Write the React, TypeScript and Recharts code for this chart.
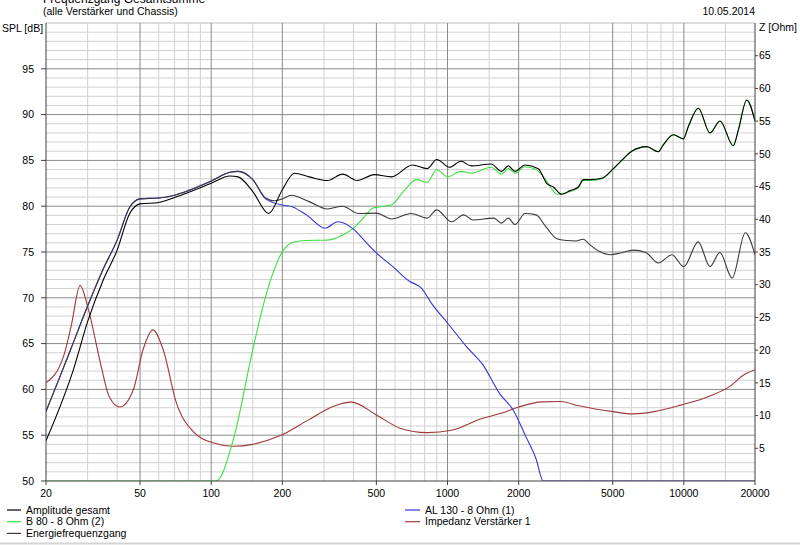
import React from 'react';
import { LineChart, Line, XAxis, YAxis, CartesianGrid } from 'recharts';

const FONT = '"Liberation Sans", Arial, Helvetica, sans-serif';

// ---- axis ticks ----
const xTicks = [20, 50, 100, 200, 500, 1000, 2000, 5000, 10000, 20000];
const freqMajor = [50, 100, 200, 500, 1000, 2000, 5000, 10000];
const freqMinor = [30, 40, 60, 70, 80, 90, 150, 300, 400, 600, 700, 800, 900, 1500, 3000, 4000, 6000, 7000, 8000, 9000, 15000];
const splTicks = [50, 55, 60, 65, 70, 75, 80, 85, 90, 95];
const zTicks = [5, 10, 15, 20, 25, 30, 35, 40, 45, 50, 55, 60, 65];
const splMajorGrid = [55, 60, 65, 70, 75, 80, 85, 90, 95];
const splMinorGrid = Array.from({ length: 50 }, (_, i) => 51 + i).filter((v) => v % 5 !== 0 || v === 100);

// ---- series: [frequency Hz, value] ----
const gesamt: [number, number][] = [
  [20, 54.4], [23, 58.2], [26, 62.0], [30, 67.4], [35, 72.0], [40, 75.2], [45, 79.1], [50, 80.25],
  [60, 80.4], [70, 80.95], [80, 81.5], [100, 82.5], [120, 83.3], [130, 83.2], [150, 81.6], [175, 79.2],
  [200, 81.8], [225, 83.6], [260, 83.2], [310, 82.8], [360, 83.5], [415, 82.8], [490, 83.45], [580, 83.2],
  [710, 84.5], [820, 84.1], [900, 85.1], [1020, 84.25], [1140, 84.9], [1260, 84.4], [1530, 84.6], [1690, 83.8],
  [1808, 84.4], [1930, 83.8], [2128, 84.5], [2422, 84.1], [2628, 82.5], [2804, 82.1], [3042, 81.3], [3298, 81.7],
  [3576, 82.1], [3754, 82.9], [4008, 82.9], [4490, 83.05], [5028, 84.1], [5458, 85.0], [6018, 86.0], [6964, 86.5],
  [7798, 85.95], [8186, 86.7], [9022, 87.8], [9948, 87.35], [10444, 88.7], [11512, 90.7], [12900, 88.0], [14220, 89.3],
  [16190, 86.6], [17000, 88.3], [18450, 91.6], [20000, 89.3],
];

const energie: [number, number][] = [
  [20, 57.6], [23, 61.5], [26, 65.0], [30, 69.1], [35, 73.2], [40, 76.3], [45, 79.8], [50, 80.8],
  [60, 80.9], [70, 81.2], [80, 81.7], [100, 82.75], [120, 83.7], [130, 83.8], [150, 82.9], [170, 80.9],
  [185, 80.6], [200, 80.8], [218, 81.2], [260, 80.5], [310, 79.7], [360, 80.0], [420, 79.2], [500, 79.24],
  [580, 78.6], [700, 79.2], [820, 78.7], [900, 79.6], [1040, 78.3], [1170, 79.05], [1280, 78.5], [1570, 78.7],
  [1690, 78.15], [1808, 78.7], [1930, 78.0], [2128, 79.2], [2370, 79.05], [2600, 77.8], [2900, 76.45], [3200, 76.25],
  [3500, 76.2], [3750, 76.4], [4000, 75.8], [4400, 75.05], [4900, 74.7], [5400, 74.9], [6100, 75.2], [6900, 74.95],
  [7800, 73.8], [8900, 74.7], [10000, 73.4], [11500, 76.1], [12900, 73.4], [14200, 74.95], [16000, 72.15], [18200, 77.1],
  [20000, 74.7],
];

const al130: [number, number][] = [
  [20, 57.6], [23, 61.5], [26, 65.0], [30, 69.1], [35, 73.2], [40, 76.3], [45, 79.8], [50, 80.8],
  [60, 80.9], [70, 81.2], [80, 81.7], [100, 82.75], [120, 83.7], [130, 83.8], [150, 82.9], [170, 80.8],
  [202, 80.1], [220, 79.95], [253, 79.05], [303, 77.6], [344, 78.3], [400, 77.5], [454, 76.0], [500, 74.9],
  [587, 73.4], [690, 71.8], [772, 71.1], [863, 69.25], [1000, 67.25], [1200, 64.7], [1410, 62.7], [1670, 59.45],
  [1890, 57.8], [2140, 54.9], [2370, 52.4], [2540, 50.0], [20000, 50.0],
];

const b80: [number, number][] = [
  [20, 50], [105, 50], [124, 54.5], [150, 64.35], [170, 70.15], [202, 75.2], [224, 76.1], [253, 76.25],
  [308, 76.3], [350, 76.7], [400, 77.6], [440, 78.7], [484, 79.8], [580, 80.15], [650, 81.6], [740, 82.9],
  [820, 82.6], [900, 84.0], [1000, 83.2], [1140, 83.8], [1260, 83.6], [1530, 84.25], [1690, 83.5], [1808, 84.1],
  [1930, 83.6], [2120, 84.3], [2370, 84.0], [2600, 82.9], [2910, 81.3], [3298, 81.6], [3576, 82.0], [3754, 82.8],
  [4008, 82.8], [4490, 83.0], [5028, 84.05], [5458, 85.0], [6018, 86.0], [6964, 86.5], [7798, 85.95], [8186, 86.7],
  [9022, 87.8], [9948, 87.35], [10444, 88.7], [11512, 90.7], [12900, 88.0], [14220, 89.3], [16190, 86.6], [17000, 88.3],
  [18450, 91.6], [20000, 89.3],
];

const impedanz: [number, number][] = [
  [20, 15.0], [23.7, 19.0], [25.5, 23.5], [27.9, 29.9], [30, 26.7], [34, 18.0], [37, 12.9], [41, 11.3],
  [46.8, 13.9], [51.5, 20.1], [56.7, 23.1], [62.6, 20.1], [71.3, 11.9], [84, 7.55], [102.6, 5.8], [124, 5.3],
  [150, 5.6], [195, 6.9], [258, 9.34], [328, 11.4], [392, 12.05], [500, 10.1], [630, 8.07], [818, 7.4],
  [1050, 7.8], [1370, 9.45], [1700, 10.4], [2000, 11.3], [2500, 12.1], [3000, 12.15], [3600, 11.5], [5000, 10.6],
  [6100, 10.26], [7500, 10.6], [9700, 11.6], [12900, 13.0], [15700, 14.5], [17900, 16.2], [20000, 17.0],
];

const toRows = (pts: [number, number][]) => pts.map(([f, v]) => ({ f, v }));

const C_GESAMT = '#000000';
const C_ENERGIE = '#3a3a3a';
const C_AL = '#3434d8';
const C_B80 = '#3ee03e';
const C_Z = '#a03838';

const legendLeft = [
  { name: 'Amplitude gesamt', color: C_GESAMT },
  { name: 'B 80 - 8 Ohm (2)', color: C_B80 },
  { name: 'Energiefrequenzgang', color: C_ENERGIE },
];
const legendRight = [
  { name: 'AL 130 - 8 Ohm (1)', color: C_AL },
  { name: 'Impedanz Verstärker 1', color: C_Z },
];

const tickStyle = { fontSize: 10.5, fill: '#000', fontFamily: FONT };

export default function App() {
  return (
    <div style={{ position: 'fixed', left: 0, top: 0, width: 800, height: 545, background: '#fff', overflow: 'hidden', fontFamily: FONT }}>
      <LineChart width={800} height={545} margin={{ top: 23, right: 0, bottom: 0, left: 0 }}>
        <CartesianGrid yAxisId="spl" stroke="#d2d2d2" fill="none" horizontalValues={[...splMinorGrid, 100]} verticalValues={freqMinor} />
        <CartesianGrid yAxisId="spl" stroke="#8a8a8a" fill="none" horizontalValues={splMajorGrid} verticalValues={freqMajor} />
        <XAxis
          dataKey="f"
          type="number"
          scale="log"
          domain={[20, 20000]}
          ticks={xTicks}
          interval={0}
          allowDataOverflow
          height={64}
          tick={tickStyle}
          tickSize={4}
          tickMargin={5}
          tickLine={{ stroke: '#404040' }}
          axisLine={{ stroke: '#404040' }}
          tickFormatter={(v: number) => String(v)}
        />
        <YAxis
          yAxisId="spl"
          orientation="left"
          width={46}
          type="number"
          domain={[50, 100]}
          ticks={splTicks}
          interval={0}
          allowDataOverflow
          tick={tickStyle}
          tickSize={5}
          tickMargin={7}
          tickLine={{ stroke: '#404040' }}
          axisLine={{ stroke: '#404040' }}
        />
        <YAxis
          yAxisId="z"
          orientation="right"
          width={45}
          type="number"
          domain={[0, 70]}
          ticks={zTicks}
          interval={0}
          allowDataOverflow
          tick={tickStyle}
          tickSize={3}
          tickMargin={1}
          tickLine={{ stroke: '#404040' }}
          axisLine={{ stroke: '#404040' }}
        />
        <Line yAxisId="z" data={toRows(impedanz)} dataKey="v" type="monotone" stroke={C_Z} strokeWidth={1.1} dot={false} isAnimationActive={false} />
        <Line yAxisId="spl" data={toRows(b80)} dataKey="v" type="monotone" stroke={C_B80} strokeWidth={1.1} dot={false} isAnimationActive={false} />
        <Line yAxisId="spl" data={toRows(al130)} dataKey="v" type="monotone" stroke={C_AL} strokeWidth={1.1} dot={false} isAnimationActive={false} />
        <Line yAxisId="spl" data={toRows(energie)} dataKey="v" type="monotone" stroke={C_ENERGIE} strokeWidth={1.1} dot={false} isAnimationActive={false} />
        <Line yAxisId="spl" data={toRows(gesamt)} dataKey="v" type="monotone" stroke={C_GESAMT} strokeWidth={1.1} dot={false} isAnimationActive={false} />
      </LineChart>
      <svg width={800} height={545} style={{ position: 'absolute', left: 0, top: 0, pointerEvents: 'none' }} fontFamily={FONT}>
        <text x={43} y={3} fontSize={12} fill="#000">Frequenzgang Gesamtsumme</text>
        <text x={43} y={15} fontSize={10.5} fill="#000">(alle Verstärker und Chassis)</text>
        <text x={755} y={15} fontSize={10.5} fill="#000" textAnchor="end">10.05.2014</text>
        <text x={2} y={32} fontSize={10.5} fill="#000">SPL [dB]</text>
        <text x={759} y={31} fontSize={10.5} fill="#000">Z [Ohm]</text>
        {legendLeft.map((it, i) => (
          <g key={it.name}>
            <line x1={7} x2={21} y1={510 + i * 11.7} y2={510 + i * 11.7} stroke={it.color} strokeWidth={1.2} />
            <text x={26} y={513.7 + i * 11.7} fontSize={10.5} fill="#000">{it.name}</text>
          </g>
        ))}
        {legendRight.map((it, i) => (
          <g key={it.name}>
            <line x1={405} x2={420} y1={510 + i * 11.7} y2={510 + i * 11.7} stroke={it.color} strokeWidth={1.2} />
            <text x={425} y={513.7 + i * 11.7} fontSize={10.5} fill="#000">{it.name}</text>
          </g>
        ))}
        <line x1={0} x2={800} y1={543.5} y2={543.5} stroke="#d4d4d4" strokeWidth={2} />
      </svg>
    </div>
  );
}
